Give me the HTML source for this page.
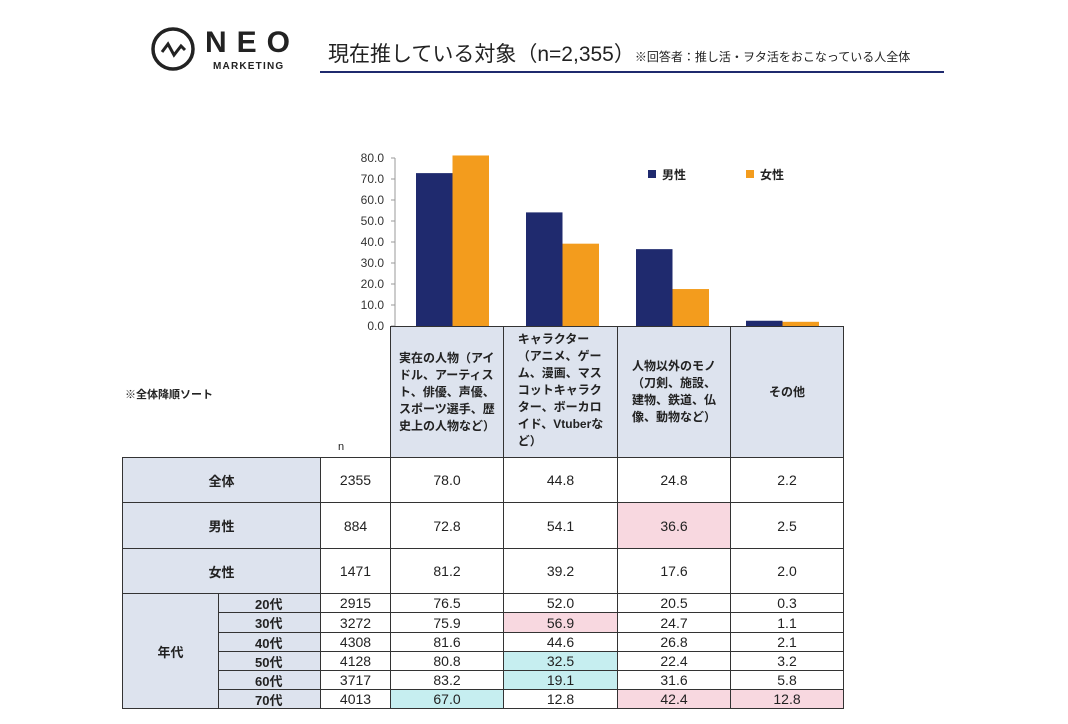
<!DOCTYPE html>
<html><head><meta charset="utf-8"><style>
body{margin:0;background:#fff;width:1068px;height:724px;overflow:hidden;font-family:"Liberation Sans","Noto Sans CJK JP",sans-serif;color:#222}
.abs{position:absolute}
.c{position:absolute;border:1px solid #333;box-sizing:border-box;display:flex;align-items:center;justify-content:center;font-size:14px}
.h{background:#dde3ee}
</style></head><body>
<svg class="abs" style="left:150px;top:26px" width="46" height="46"><circle cx="23" cy="23" r="20" fill="none" stroke="#222" stroke-width="3.5"/><polyline points="12,26 18,18 24,29 31,20 35,24" fill="none" stroke="#222" stroke-width="3"/></svg>
<div class="abs" style="left:205px;top:26px;font-size:30px;font-weight:bold;letter-spacing:10px;color:#222">NEO</div>
<div class="abs" style="left:213px;top:61px;font-size:10px;font-weight:bold;letter-spacing:1.2px">MARKETING</div>
<div class="abs" style="left:328px;top:38px;font-size:21px;white-space:nowrap">現在推している対象（n=2,355）<span style="font-size:12px">※回答者：推し活・ヲタ活をおこなっている人全体</span></div>
<div class="abs" style="left:320px;top:71px;width:624px;height:2px;background:#1f2a6e"></div>
<div class="abs" style="left:125px;top:386px;font-size:11px;font-weight:bold">※全体降順ソート</div>
<div class="abs" style="left:338px;top:441px;font-size:11px">n</div>
<svg id="chart" class="abs" style="left:0;top:0" width="1068" height="724"></svg>
<div id="tbl"></div>
<script>
const categories=["実在の人物（アイ<br>ドル、アーティス<br>ト、俳優、声優、<br>スポーツ選手、歴<br>史上の人物など）","キャラクター<br>（アニメ、ゲー<br>ム、漫画、マス<br>コットキャラク<br>ター、ボーカロ<br>イド、Vtuberな<br>ど）","人物以外のモノ<br>（刀剣、施設、<br>建物、鉄道、仏<br>像、動物など）","その他"];
const male=[72.8,54.1,36.6,2.5];
const female=[81.2,39.2,17.6,2.0];
const yTicks=[0,10,20,30,40,50,60,70,80];
const rowLabels=["全体","男性","女性","20代","30代","40代","50代","60代","70代"];
const rowN=[2355,884,1471,2915,3272,4308,4128,3717,4013];
const rowVals=[[78.0,44.8,24.8,2.2],[72.8,54.1,36.6,2.5],[81.2,39.2,17.6,2.0],[76.5,52.0,20.5,0.3],[75.9,56.9,24.7,1.1],[81.6,44.6,26.8,2.1],[80.8,32.5,22.4,3.2],[83.2,19.1,31.6,5.8],[67.0,12.8,42.4,12.8]];
const ns="http://www.w3.org/2000/svg",svg=document.getElementById('chart');
const y0=326,yMax=80,ph=168,colX=[390,503,617,730,843];
const y=v=>y0-v/yMax*ph;
const bandX=i=>416+i*110;
function mk(t,a){const e=document.createElementNS(ns,t);for(const k in a)e.setAttribute(k,a[k]);svg.appendChild(e);return e;}
let ax=mk('line',{x1:395,y1:158,x2:395,y2:y0,stroke:'#999'});


yTicks.forEach(t=>{const tx=mk('text',{x:384,y:y(t)+4,'text-anchor':'end','font-size':12,fill:'#333'});tx.textContent=t.toFixed(1);


mk('line',{x1:391,x2:395,y1:y(t),y2:y(t),stroke:'#999'});});
const cl=v=>Math.min(v,yMax+1.5);
categories.forEach((c,i)=>{const bx=bandX(i);
const b1=mk('rect',{x:bx,y:y(cl(male[i])),width:36.5,height:y0-y(cl(male[i])),fill:'#1f2a6e'});


const b2=mk('rect',{x:bx+36.5,y:y(cl(female[i])),width:36.5,height:y0-y(cl(female[i])),fill:'#f39c1d'});

});
[[648,'#1f2a6e','男性'],[746,'#f39c1d','女性']].forEach(l=>{const r=mk('rect',{x:l[0],y:170,width:8,height:8,fill:l[1]});


const t=mk('text',{x:l[0]+14,y:179,'font-size':12,'font-weight':'bold',fill:'#222'});t.textContent=l[2];

});
const tb=document.getElementById('tbl');
function cell(x,yy,w,h,txt,cls,bg,name,extra){const d=document.createElement('div');d.className='c '+(cls||'');d.style.cssText=`left:${x}px;top:${yy}px;width:${w+1}px;height:${h+1}px;`+(bg?`background:${bg};`:'')+(extra||'');d.innerHTML=txt;


tb.appendChild(d);}
categories.forEach((c,i)=>cell(colX[i],326,colX[i+1]-colX[i],131,`<div style="white-space:nowrap;font-size:12px;font-weight:bold;line-height:17px;${i==3?'text-align:center':'text-align:left'};${i==1?'margin-top:-4px':''}">${c}</div>`,'h',null,'category-header'));
const rowY=[457,502,548,593,612,632,651,670,689,708];
const pink={"1,2":1,"4,1":1,"8,2":1,"8,3":1},cyan={"6,1":1,"7,1":1,"8,0":1};
rowLabels.forEach((r,i)=>{const yy=rowY[i],h=rowY[i+1]-yy;
if(i<3)cell(122,yy,198,h,r,'h',null,'row-label','font-weight:bold;font-size:13px');else cell(218,yy,102,h,r,'h',null,'age-label','justify-content:flex-start;padding-left:36px;font-weight:bold;font-size:13px');
cell(320,yy,70,h,rowN[i],'',null,'n-cell');
rowVals[i].forEach((v,j)=>{const k=i+','+j;cell(colX[j],yy,colX[j+1]-colX[j],h,v.toFixed(1),'',pink[k]?'#f8d8e0':cyan[k]?'#c6eef0':null,'value-cell');});});
cell(122,593,96,115,'年代','h',null,'age-group-label','font-weight:bold;font-size:13px');
</script>
</body></html>
